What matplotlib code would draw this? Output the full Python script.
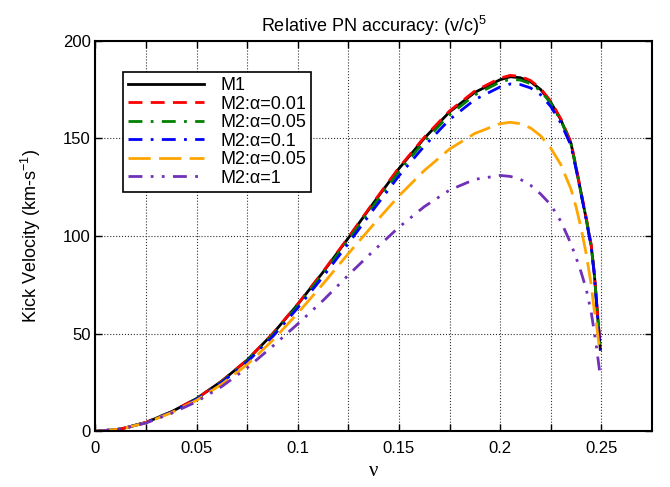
import matplotlib
matplotlib.use("Agg")
import matplotlib.pyplot as plt
from matplotlib.ticker import MultipleLocator, FixedLocator, FuncFormatter

plt.rcParams['font.family'] = ['Liberation Sans', 'DejaVu Sans']
plt.rcParams['mathtext.fontset'] = 'custom'
plt.rcParams['mathtext.rm'] = 'Liberation Sans'
plt.rcParams['mathtext.it'] = 'Liberation Sans:italic'

nu = [0, 0.0125, 0.025, 0.0375, 0.05, 0.0625, 0.075, 0.0875, 0.1, 0.1125,
      0.125, 0.1375, 0.15, 0.1625, 0.175, 0.1875, 0.2, 0.205, 0.21, 0.215,
      0.22, 0.225, 0.23, 0.235, 0.2375, 0.24, 0.2425, 0.245, 0.2465, 0.2475,
      0.2485, 0.2495]

m1 = [0, 1.2, 4.6, 10.0, 16.8, 25.8, 36.5, 49.8, 65, 81.5,
      99, 117, 134.5, 150, 163.5, 173.5, 180, 181.5, 181, 179,
      175, 168.5, 159.5, 147.5, 135, 122, 109, 95, 81, 68,
      55, 42]
m2_001 = [0, 1.2, 4.6, 10.0, 16.8, 25.8, 36.6, 49.9, 65.2, 81.8,
          99.3, 117.4, 135, 150.5, 164, 174.2, 180.8, 182.2, 181.7, 179.6,
          175.5, 169, 160, 148, 135.5, 122.5, 109.5, 95.5, 81.5, 68.5,
          55.5, 43]
m2_005 = [0, 1.2, 4.6, 9.9, 16.6, 25.5, 36.1, 49.2, 64.3, 80.6,
          97.9, 115.7, 133, 148.4, 162, 172.2, 178.8, 180.2, 179.8, 178,
          174.3, 168, 159.1, 147.2, 134.8, 121.8, 108.8, 94.8, 80.8, 67.8,
          54.8, 42]
m2_01 = [0, 1.2, 4.5, 9.8, 16.4, 25.1, 35.5, 48.4, 63.2, 79.2,
         96.2, 113.7, 130.8, 146, 159.6, 169.8, 176.3, 177.8, 177.5, 175.8,
         172.3, 166.3, 157.8, 146.3, 134.3, 121.5, 108.5, 94.5, 80.5, 67.5,
         54.5, 41.5]
m2_05 = [0, 1.2, 4.4, 9.5, 15.9, 24.2, 34.2, 46.5, 60.5, 75.5,
         91, 106, 120.5, 133.5, 144.5, 152.5, 157.5, 158.2, 157.5, 155.3,
         151.3, 145, 136.5, 124, 115, 104, 91, 75, 62, 56,
         47, 40]
m2_1 = [0, 1.1, 4.3, 9.2, 15.2, 23, 32.5, 43.5, 55, 67,
        80, 92.5, 104.5, 115, 123.5, 129, 131, 130.5, 129, 126,
        121.5, 116, 107.5, 96, 89, 81.5, 73, 61, 51, 44,
        36, 28]

labels = ['M1', 'M2:\u03b1=0.01', 'M2:\u03b1=0.05', 'M2:\u03b1=0.1',
          'M2:\u03b1=0.05', 'M2:\u03b1=1']
series = [m1, m2_001, m2_005, m2_01, m2_05, m2_1]
colors = ['black', '#ff0000', '#008000', '#0000ff', '#ffa500', '#7030b8']
styles = ['-', (0, (5, 3)), (0, (5, 3, 1, 3)), (0, (5, 3, 1, 3)),
          (0, (8, 3)), (0, (5, 3, 1, 3, 1, 3))]

fig = plt.figure(figsize=(6.7, 4.87), dpi=100)
ax = fig.add_axes([0.1424, 0.1142, 0.8306, 0.8024])

for y, lab, c, ls in zip(series, labels, colors, styles):
    ax.plot(nu, y, color=c, linestyle=ls, linewidth=2.0, label=lab)

ax.set_xlim(0, 0.275)
ax.set_ylim(0, 200)
ax.xaxis.set_major_locator(FixedLocator([0, 0.05, 0.1, 0.15, 0.2, 0.25]))
ax.xaxis.set_minor_locator(FixedLocator([0.025, 0.075, 0.125, 0.175, 0.225]))
ax.xaxis.set_major_formatter(FuncFormatter(lambda v, p: '0' if v == 0 else ('%g' % v)))
ax.yaxis.set_major_locator(MultipleLocator(50))

ax.tick_params(which='both', direction='in', top=True, right=True,
               labelsize=12, length=5, width=1)
ax.tick_params(axis='x', pad=7)
ax.grid(True, which='both', axis='x', linestyle=':', color='#333333', linewidth=0.8)
ax.grid(True, which='major', axis='y', linestyle=':', color='#333333', linewidth=0.8)
ax.set_axisbelow(True)
for s in ax.spines.values():
    s.set_linewidth(1.5)

ax.set_title('Relative PN accuracy: (v/c)$^5$', fontsize=13, pad=6)
ax.set_ylabel('Kick Velocity (km-s$^{-1}$)', fontsize=13, labelpad=14)
ax.set_xlabel('\u03bd', fontsize=15, family=['Liberation Serif'])

leg = ax.legend(loc='upper left', bbox_to_anchor=(0.049, 0.92), fontsize=13,
                handlelength=4.2, frameon=True, fancybox=False, framealpha=1,
                edgecolor='black', borderpad=0.3, labelspacing=0.08,
                handletextpad=0.9, borderaxespad=0)
leg.get_frame().set_linewidth(1.2)

fig.savefig('out.png', dpi=100)
